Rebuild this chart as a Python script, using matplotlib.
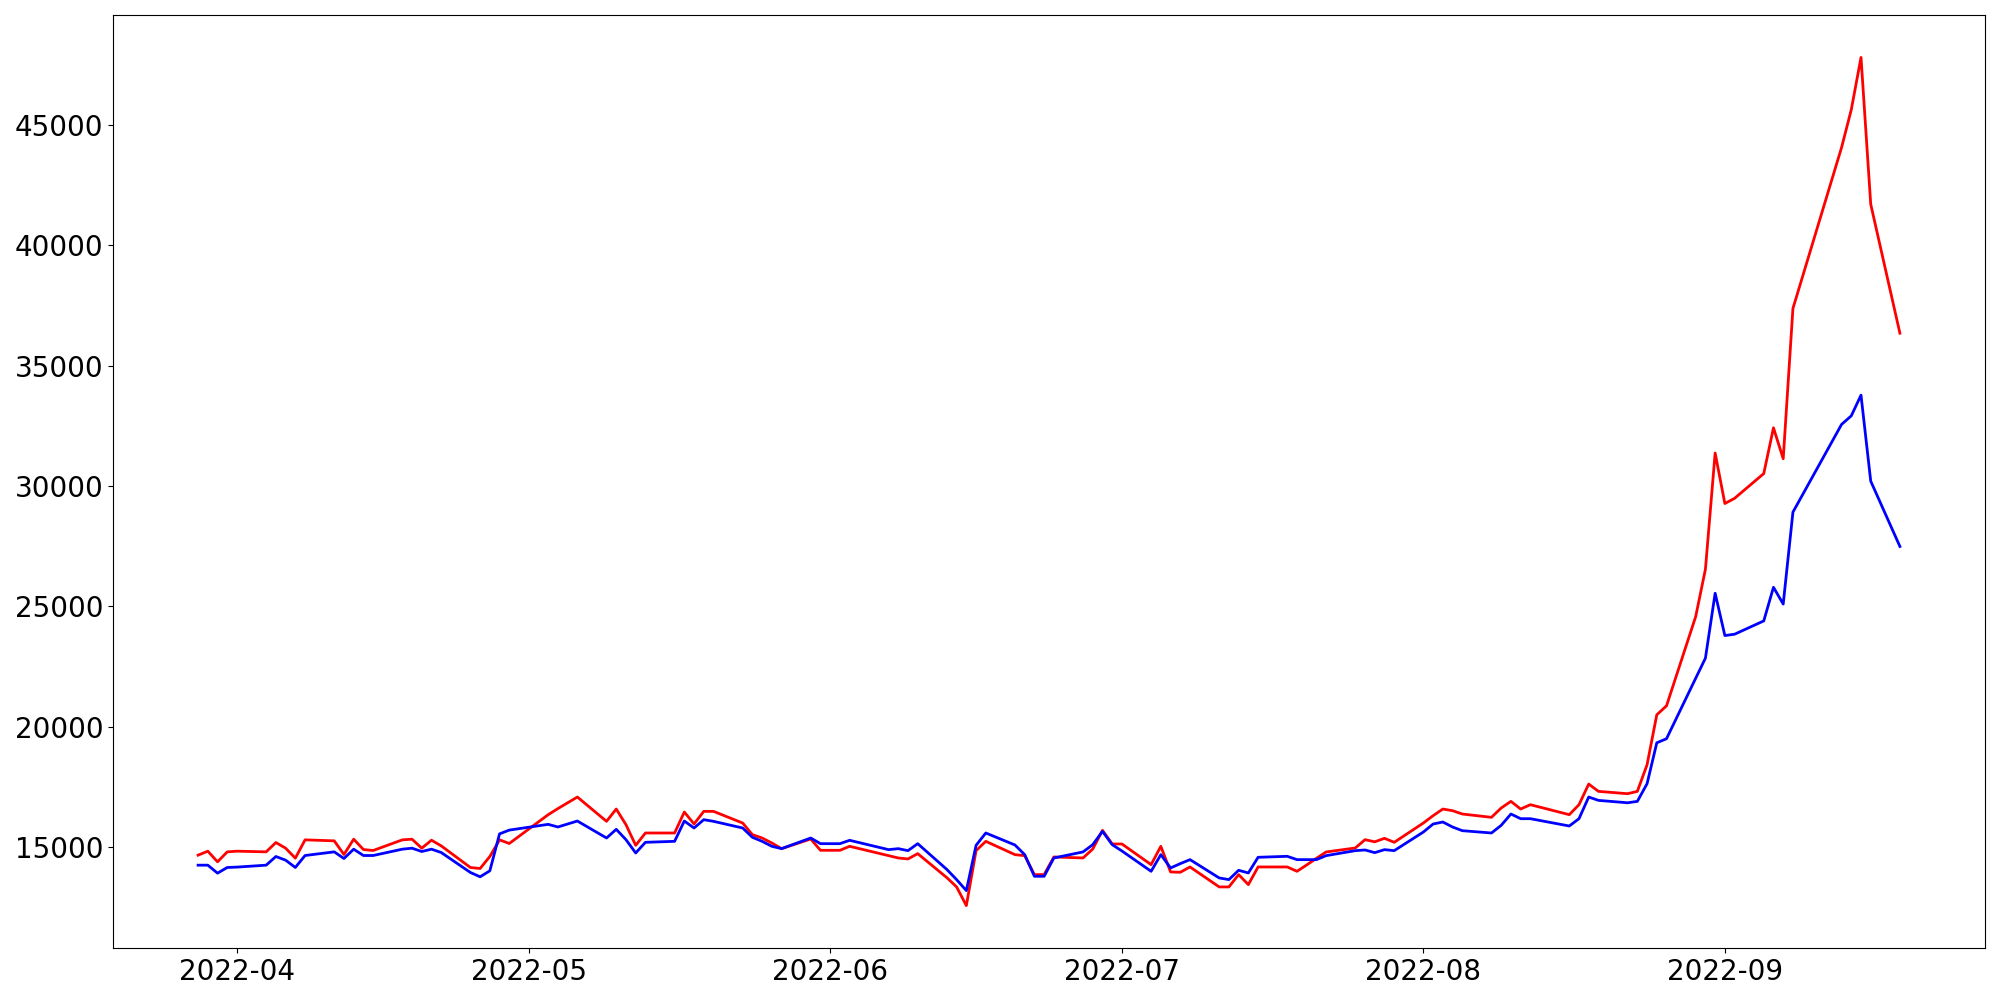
import matplotlib
matplotlib.use('Agg')
import matplotlib.pyplot as plt
import pandas as pd

dates = ['2022-03-28', '2022-03-29', '2022-03-30', '2022-03-31', '2022-04-01',
         '2022-04-04', '2022-04-05', '2022-04-06', '2022-04-07', '2022-04-08',
         '2022-04-11', '2022-04-12', '2022-04-13', '2022-04-14', '2022-04-15',
         '2022-04-18', '2022-04-19', '2022-04-20', '2022-04-21', '2022-04-22',
         '2022-04-25', '2022-04-26', '2022-04-27', '2022-04-28', '2022-04-29',
         '2022-05-03', '2022-05-04', '2022-05-06',
         '2022-05-09', '2022-05-10', '2022-05-11', '2022-05-12', '2022-05-13',
         '2022-05-16', '2022-05-17', '2022-05-18', '2022-05-19', '2022-05-20',
         '2022-05-23', '2022-05-24', '2022-05-25', '2022-05-26', '2022-05-27',
         '2022-05-30', '2022-05-31', '2022-06-02', '2022-06-03',
         '2022-06-07', '2022-06-08', '2022-06-09', '2022-06-10',
         '2022-06-13', '2022-06-14', '2022-06-15', '2022-06-16', '2022-06-17',
         '2022-06-20', '2022-06-21', '2022-06-22', '2022-06-23', '2022-06-24',
         '2022-06-27', '2022-06-28', '2022-06-29', '2022-06-30', '2022-07-01',
         '2022-07-04', '2022-07-05', '2022-07-06', '2022-07-07', '2022-07-08',
         '2022-07-11', '2022-07-12', '2022-07-13', '2022-07-14', '2022-07-15',
         '2022-07-18', '2022-07-19', '2022-07-20', '2022-07-21', '2022-07-22',
         '2022-07-25', '2022-07-26', '2022-07-27', '2022-07-28', '2022-07-29',
         '2022-08-01', '2022-08-02', '2022-08-03', '2022-08-04', '2022-08-05',
         '2022-08-08', '2022-08-09', '2022-08-10', '2022-08-11', '2022-08-12',
         '2022-08-16', '2022-08-17', '2022-08-18', '2022-08-19',
         '2022-08-22', '2022-08-23', '2022-08-24', '2022-08-25', '2022-08-26',
         '2022-08-29', '2022-08-30', '2022-08-31', '2022-09-01', '2022-09-02',
         '2022-09-05', '2022-09-06', '2022-09-07', '2022-09-08',
         '2022-09-13', '2022-09-14', '2022-09-15', '2022-09-16',
         '2022-09-19']

red_values = [14675, 14841, 14399, 14813, 14841,
              14813, 15200, 14965, 14551, 15311,
              15270, 14703, 15339, 14910, 14869,
              15311, 15339, 14965, 15297, 15062,
              14164, 14122, 14620, 15311, 15160,
              16356, 16609, 17089,
              16080, 16591, 15941, 15084, 15596,
              15596, 16467, 15969, 16494, 16494,
              16010, 15527, 15388, 15181, 14946,
              15347, 14877, 14877, 15043,
              14656, 14559, 14518, 14739,
              13740, 13356, 12582, 14863, 15250,
              14697, 14656, 13868, 13868, 14601,
              14559, 14932, 15706, 15140, 15140,
              14283, 15043, 13979, 13965, 14186,
              13357, 13357, 13868, 13453, 14186,
              14186, 14006, 14269, 14545, 14808,
              14974, 15319, 15230, 15375, 15209,
              16011, 16315, 16591, 16522, 16384,
              16246, 16633, 16909, 16591, 16771,
              16356, 16771, 17628, 17324,
              17227, 17324, 18430, 20503, 20876,
              24581, 26544, 31372, 29274, 29490,
              30518, 32417, 31132, 37373,
              44054, 45626, 47795, 41698,
              36345]

blue_values = [14260, 14260, 13929, 14164, 14180,
               14260, 14620, 14468, 14164, 14661,
               14813, 14537, 14924, 14661, 14661,
               14924, 14965, 14827, 14924, 14786,
               13957, 13778, 14025, 15560, 15716,
               15955, 15845, 16093,
               15388, 15748, 15319, 14766, 15209,
               15250, 16093, 15803, 16149, 16080,
               15803, 15416, 15250, 15043, 14946,
               15388, 15153, 15153, 15292,
               14905, 14946, 14863, 15153,
               14080, 13660, 13204, 15084, 15596,
               15098, 14697, 13799, 13799, 14559,
               14810, 15112, 15665, 15112, 14849,
               14006, 14697, 14144, 14324, 14490,
               13730, 13661, 14048, 13937, 14587,
               14628, 14490, 14490, 14490, 14656,
               14863, 14891, 14780, 14905, 14863,
               15637, 15969, 16052, 15844, 15692,
               15596, 15914, 16384, 16190, 16190,
               15886, 16190, 17089, 16950,
               16850, 16909, 17642, 19340, 19510,
               22020, 22853, 25549, 23793, 23848,
               24401, 25797, 25100, 28917,
               32558, 32915, 33773, 30203,
               27491]

df = pd.DataFrame({'date': pd.to_datetime(dates),
                   'red': red_values,
                   'blue': blue_values})

fig, ax = plt.subplots(figsize=(20, 10), dpi=100)
ax.plot(df['date'], df['red'], color='red', linewidth=2)
ax.plot(df['date'], df['blue'], color='blue', linewidth=2)

ax.tick_params(axis='both', labelsize=20)

plt.subplots_adjust(left=0.0565, right=0.9925, top=0.985, bottom=0.052)
plt.savefig('out.png')
